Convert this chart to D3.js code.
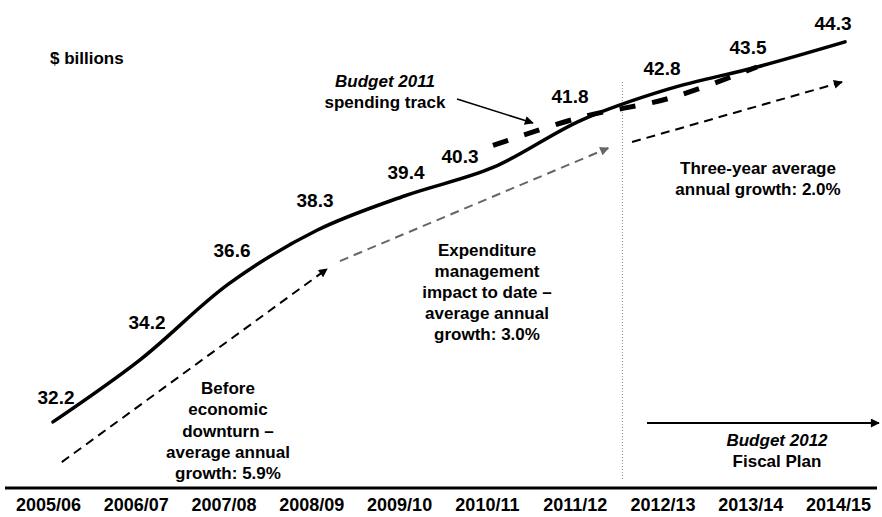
<!DOCTYPE html>
<html>
<head>
<meta charset="utf-8">
<script src="https://cdn.jsdelivr.net/npm/d3@7"></script>
<style>
  html, body { margin: 0; padding: 0; background: #fff; }
  svg { display: block; font-family: "Liberation Sans", Arial, sans-serif; }
  text { font-weight: bold; fill: #000; }
</style>
</head>
<body>
<svg id="chart" width="882" height="517"></svg>
<script>
// Fiscal years on the horizontal axis
const years = ["2005/06", "2006/07", "2007/08", "2008/09", "2009/10",
               "2010/11", "2011/12", "2012/13", "2013/14", "2014/15"];

// Program expense, $ billions
const spending = [32.2, 34.2, 36.6, 38.3, 39.4, 40.3, 41.8, 42.8, 43.5, 44.3];

// Budget 2011 spending track (2010/11 to 2013/14)
const budget2011Years = ["2010/11", "2011/12", "2012/13", "2013/14"];
const budget2011 = [41.0, 41.9, 42.5, 43.5];

// Label nudges [dx, dy] relative to each point
const labelNudge = [[3, -25], [6, -37], [3, -34], [-2, -30], [1, -24],
                    [-33, -11], [-11, -24], [-7, -21], [-9, -20], [-12, -19]];

const svg = d3.select("#chart");

const x = d3.scalePoint().domain(years).range([53, 845]);
const xTick = d3.scalePoint().domain(years).range([48, 838]);
const xi = d3.scaleLinear().domain([0, years.length - 1]).range([53, 845]);
const y = d3.scaleLinear().domain([30, 45.6]).range([491, 1]);

// arrow markers
const defs = svg.append("defs");
function marker(id, color, w, h) {
  defs.append("marker")
    .attr("id", id)
    .attr("viewBox", "0 0 10 10")
    .attr("refX", 9).attr("refY", 5)
    .attr("markerUnits", "userSpaceOnUse")
    .attr("markerWidth", w).attr("markerHeight", h)
    .attr("orient", "auto")
    .append("path")
    .attr("d", "M0,0 L10,5 L0,10 Z")
    .attr("fill", color);
}
marker("headBlack", "#000", 11, 9);
marker("headGray", "#666", 11, 9);

// divider between actuals and plan
svg.append("line")
  .attr("x1", xi(6.47)).attr("x2", xi(6.47))
  .attr("y1", 82).attr("y2", 480)
  .attr("stroke", "#888").attr("stroke-width", 1)
  .attr("stroke-dasharray", "1,2");

// growth-trend arrows (index position, value)
const trends = [
  { from: [0.10, 30.92], to: [3.114, 37.07], color: "#000", head: "headBlack" },
  { from: [3.26, 37.32], to: [6.31, 40.92], color: "#666", head: "headGray" },
  { from: [6.58, 41.11], to: [8.966, 43.02], color: "#000", head: "headBlack" }
];
svg.selectAll("line.trend").data(trends).enter().append("line")
  .attr("class", "trend")
  .attr("x1", d => xi(d.from[0])).attr("y1", d => y(d.from[1]))
  .attr("x2", d => xi(d.to[0])).attr("y2", d => y(d.to[1]))
  .attr("stroke", d => d.color).attr("stroke-width", 2)
  .attr("stroke-dasharray", "9,6")
  .attr("marker-end", d => `url(#${d.head})`);

// Budget 2011 track
const b11 = budget2011Years.map((yr, i) => [x(yr), y(budget2011[i])]);
svg.append("path")
  .attr("d", d3.line().curve(d3.curveCatmullRom.alpha(0.5))(b11))
  .attr("fill", "none").attr("stroke", "#000")
  .attr("stroke-width", 5).attr("stroke-dasharray", "16,17");

// actual + planned spending
const pts = years.map((yr, i) => [x(yr), y(spending[i])]);
svg.append("path")
  .attr("d", d3.line().curve(d3.curveCatmullRom.alpha(0.5))(pts))
  .attr("fill", "none").attr("stroke", "#000")
  .attr("stroke-width", 3.5).attr("stroke-linecap", "round");

// value labels
svg.selectAll("text.val").data(spending).enter().append("text")
  .attr("class", "val")
  .attr("x", (d, i) => x(years[i]) + labelNudge[i][0])
  .attr("y", (d, i) => y(d) + labelNudge[i][1] + 7)
  .attr("text-anchor", "middle")
  .style("font-size", "19px")
  .text(d => d.toFixed(1));

// axis
svg.append("line")
  .attr("x1", 5).attr("x2", 877)
  .attr("y1", 488).attr("y2", 488)
  .attr("stroke", "#000").attr("stroke-width", 3);

const axis = svg.append("g")
  .attr("transform", "translate(0,495)")
  .call(d3.axisBottom(xTick).tickSize(0).tickPadding(0));
axis.select(".domain").remove();
axis.selectAll("text")
  .attr("dy", "0.9em")
  .style("font-size", "18px")
  .style("font-weight", "bold")
  .style("font-family", "'Liberation Sans', Arial, sans-serif")
  .attr("fill", "#000");

// text blocks
function block(cx, y0, lh, lines) {
  const t = svg.append("text").attr("text-anchor", "middle").style("font-size", "17px");
  lines.forEach((ln, i) => {
    const ts = t.append("tspan").attr("x", cx).attr("y", y0 + i * lh);
    if (Array.isArray(ln)) {
      ts.text(ln[0]).style("font-style", "italic");
    } else {
      ts.text(ln);
    }
  });
}

svg.append("text").attr("x", 50).attr("y", 64)
  .style("font-size", "17px").text("$ billions");

block(228, 394, 21.3, ["Before", "economic", "downturn \u2013", "average annual", "growth: 5.9%"]);
block(487, 256, 21, ["Expenditure", "management", "impact to date \u2013", "average annual", "growth: 3.0%"]);
block(758, 174, 20.5, ["Three-year average", "annual growth: 2.0%"]);
block(385, 87, 21, [["Budget 2011"], "spending track"]);
block(777, 446, 21, [["Budget 2012"], "Fiscal Plan"]);

// pointer to the Budget 2011 track
svg.append("line")
  .attr("x1", 457).attr("y1", 99).attr("x2", 533).attr("y2", 123)
  .attr("stroke", "#000").attr("stroke-width", 1.6)
  .attr("marker-end", "url(#headBlack)");

// Budget 2012 plan horizon arrow
svg.append("line")
  .attr("x1", xi(6.75)).attr("y1", 423).attr("x2", 879).attr("y2", 423)
  .attr("stroke", "#000").attr("stroke-width", 2)
  .attr("marker-end", "url(#headBlack)");
</script>
</body>
</html>
